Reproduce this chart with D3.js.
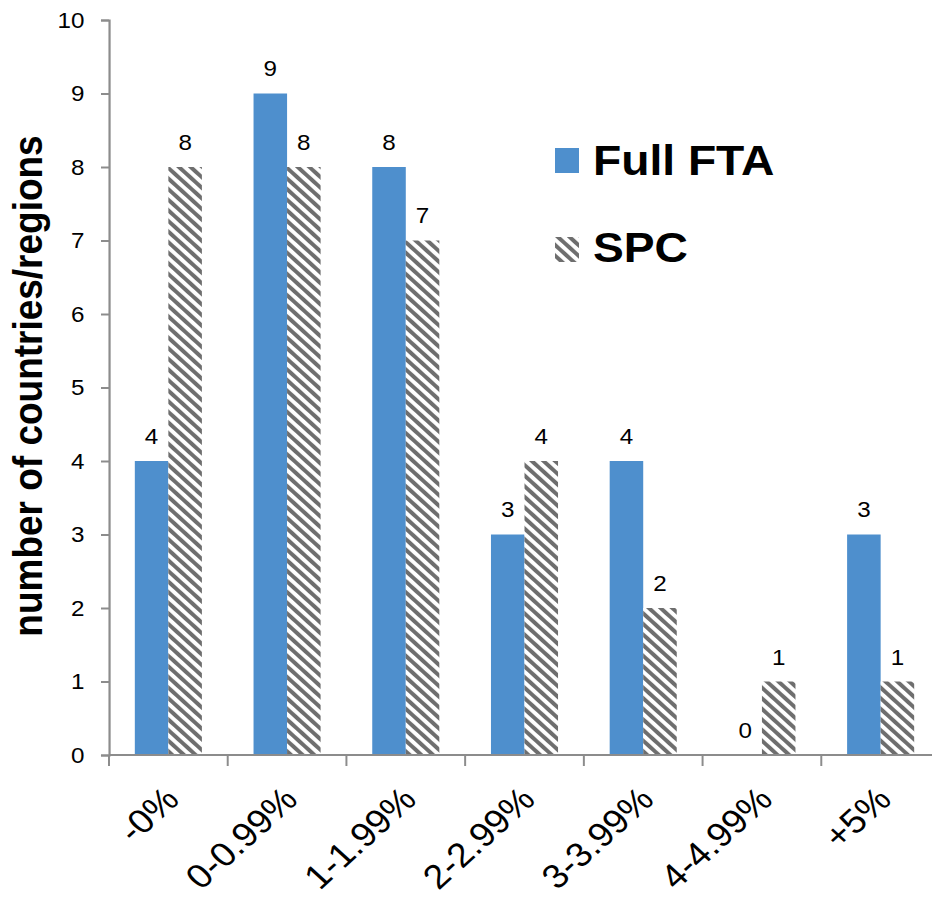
<!DOCTYPE html>
<html>
<head>
<meta charset="utf-8">
<script src="https://cdn.jsdelivr.net/npm/d3@7"></script>
<style>
  body { margin: 0; background: #fff; }
  svg text { font-family: "Liberation Sans", Arial, sans-serif; fill: #000; }
</style>
</head>
<body>
<script>
// chart data
var categories = ["-0%", "0-0.99%", "1-1.99%", "2-2.99%", "3-3.99%", "4-4.99%", "+5%"];
var fullFta = [4, 9, 8, 3, 4, 0, 3];
var spc = [8, 8, 7, 4, 2, 1, 1];
var seriesNames = ["Full FTA", "SPC"];
var yTicks = [0, 1, 2, 3, 4, 5, 6, 7, 8, 9, 10];

var width = 932, height = 898;
// the original picture is a bit wider than tall, so everything is drawn
// in narrower units and stretched back horizontally
var stretch = 1.1;

var svg = d3.select("body").append("svg")
    .attr("width", width)
    .attr("height", height);

// diagonal hatch for SPC
var pat = svg.append("defs").append("pattern")
    .attr("id", "hatch")
    .attr("patternUnits", "userSpaceOnUse")
    .attr("width", 7.5)
    .attr("height", 7.5)
    .attr("patternTransform", "rotate(-45)");
pat.append("rect").attr("width", 7.5).attr("height", 7.5).attr("fill", "#fff");
pat.append("rect").attr("width", 3.8).attr("height", 7.5).attr("fill", "#6e6e6e");

var g = svg.append("g")
    .attr("transform", "scale(" + stretch + ",1)");

var x = d3.scaleBand()
    .domain(categories)
    .range([109 / stretch, 940 / stretch]);

var y = d3.scaleLinear()
    .domain([0, 10])
    .range([755, 20]);

var inner = d3.scaleBand()
    .domain(seriesNames)
    .range([0, x.bandwidth()])
    .paddingOuter(0.77)
    .paddingInner(0);

var axisColor = "#8c8c8c";
var blue = "#4e8fcd";

// y axis
var yAxis = g.append("g")
    .attr("transform", "translate(" + x.range()[0] + ",0)")
    .call(d3.axisLeft(y).tickValues(yTicks).tickSize(7.3).tickPadding(15).tickFormat(d3.format("d")));
yAxis.select(".domain").attr("stroke", axisColor).attr("stroke-width", 2);
yAxis.selectAll(".tick line").attr("stroke", axisColor).attr("stroke-width", 2);
yAxis.selectAll(".tick text")
    .attr("font-size", "22px")
    .style("font-family", "Liberation Sans, Arial, sans-serif");

// bars
var groups = g.selectAll(".cat")
    .data(categories)
    .enter()
    .append("g")
    .attr("class", "cat")
    .attr("transform", function(d) { return "translate(" + x(d) + ",0)"; });

groups.append("rect")
    .attr("x", inner("Full FTA"))
    .attr("width", inner.bandwidth())
    .attr("y", function(d, i) { return y(fullFta[i]); })
    .attr("height", function(d, i) { return y(0) - y(fullFta[i]); })
    .attr("fill", blue);

groups.append("rect")
    .attr("x", inner("SPC"))
    .attr("width", inner.bandwidth())
    .attr("y", function(d, i) { return y(spc[i]); })
    .attr("height", function(d, i) { return y(0) - y(spc[i]); })
    .attr("fill", "url(#hatch)");

// value labels
groups.append("text")
    .attr("x", inner("Full FTA") + inner.bandwidth() / 2)
    .attr("y", function(d, i) { return y(fullFta[i]) - 17; })
    .attr("text-anchor", "middle")
    .attr("font-size", "22px")
    .text(function(d, i) { return fullFta[i]; });

groups.append("text")
    .attr("x", inner("SPC") + inner.bandwidth() / 2)
    .attr("y", function(d, i) { return y(spc[i]) - 17; })
    .attr("text-anchor", "middle")
    .attr("font-size", "22px")
    .text(function(d, i) { return spc[i]; });

// x axis
var xAxis = g.append("g")
    .attr("transform", "translate(0," + y(0) + ")");
xAxis.append("line")
    .attr("x1", x.range()[0])
    .attr("x2", x.range()[1])
    .attr("stroke", axisColor)
    .attr("stroke-width", 2);
xAxis.selectAll(".xtick")
    .data(categories)
    .enter()
    .append("line")
    .attr("x1", function(d) { return x(d); })
    .attr("x2", function(d) { return x(d); })
    .attr("y1", 0)
    .attr("y2", 11)
    .attr("stroke", axisColor)
    .attr("stroke-width", 1.8);

xAxis.selectAll(".xlab")
    .data(categories)
    .enter()
    .append("text")
    .attr("transform", function(d) {
        return "translate(" + (x(d) + x.bandwidth() / 2 + 3) + ",38) rotate(-45)";
    })
    .attr("text-anchor", "end")
    .attr("dy", "0.35em")
    .attr("font-size", "34px")
    .text(function(d) { return d; });

// y axis title
g.append("text")
    .attr("transform", "translate(" + (42 / stretch) + ",386) rotate(-90)")
    .attr("text-anchor", "middle")
    .attr("font-size", "37px")
    .attr("font-weight", "bold")
    .text("number of countries/regions");

// legend
var legend = g.selectAll(".legend")
    .data(seriesNames)
    .enter()
    .append("g")
    .attr("class", "legend")
    .attr("transform", function(d, i) { return "translate(" + (555 / stretch) + "," + (148 + i * 89) + ")"; });

legend.append("rect")
    .attr("width", 24 / stretch)
    .attr("height", 25)
    .attr("fill", function(d, i) { return i == 0 ? blue : "url(#hatch)"; });

legend.append("text")
    .attr("x", 38 / stretch)
    .attr("y", function(d, i) { return i == 0 ? 27 : 25; })
    .attr("font-size", "42px")
    .attr("font-weight", "bold")
    .text(function(d) { return d; });
</script>
</body>
</html>
